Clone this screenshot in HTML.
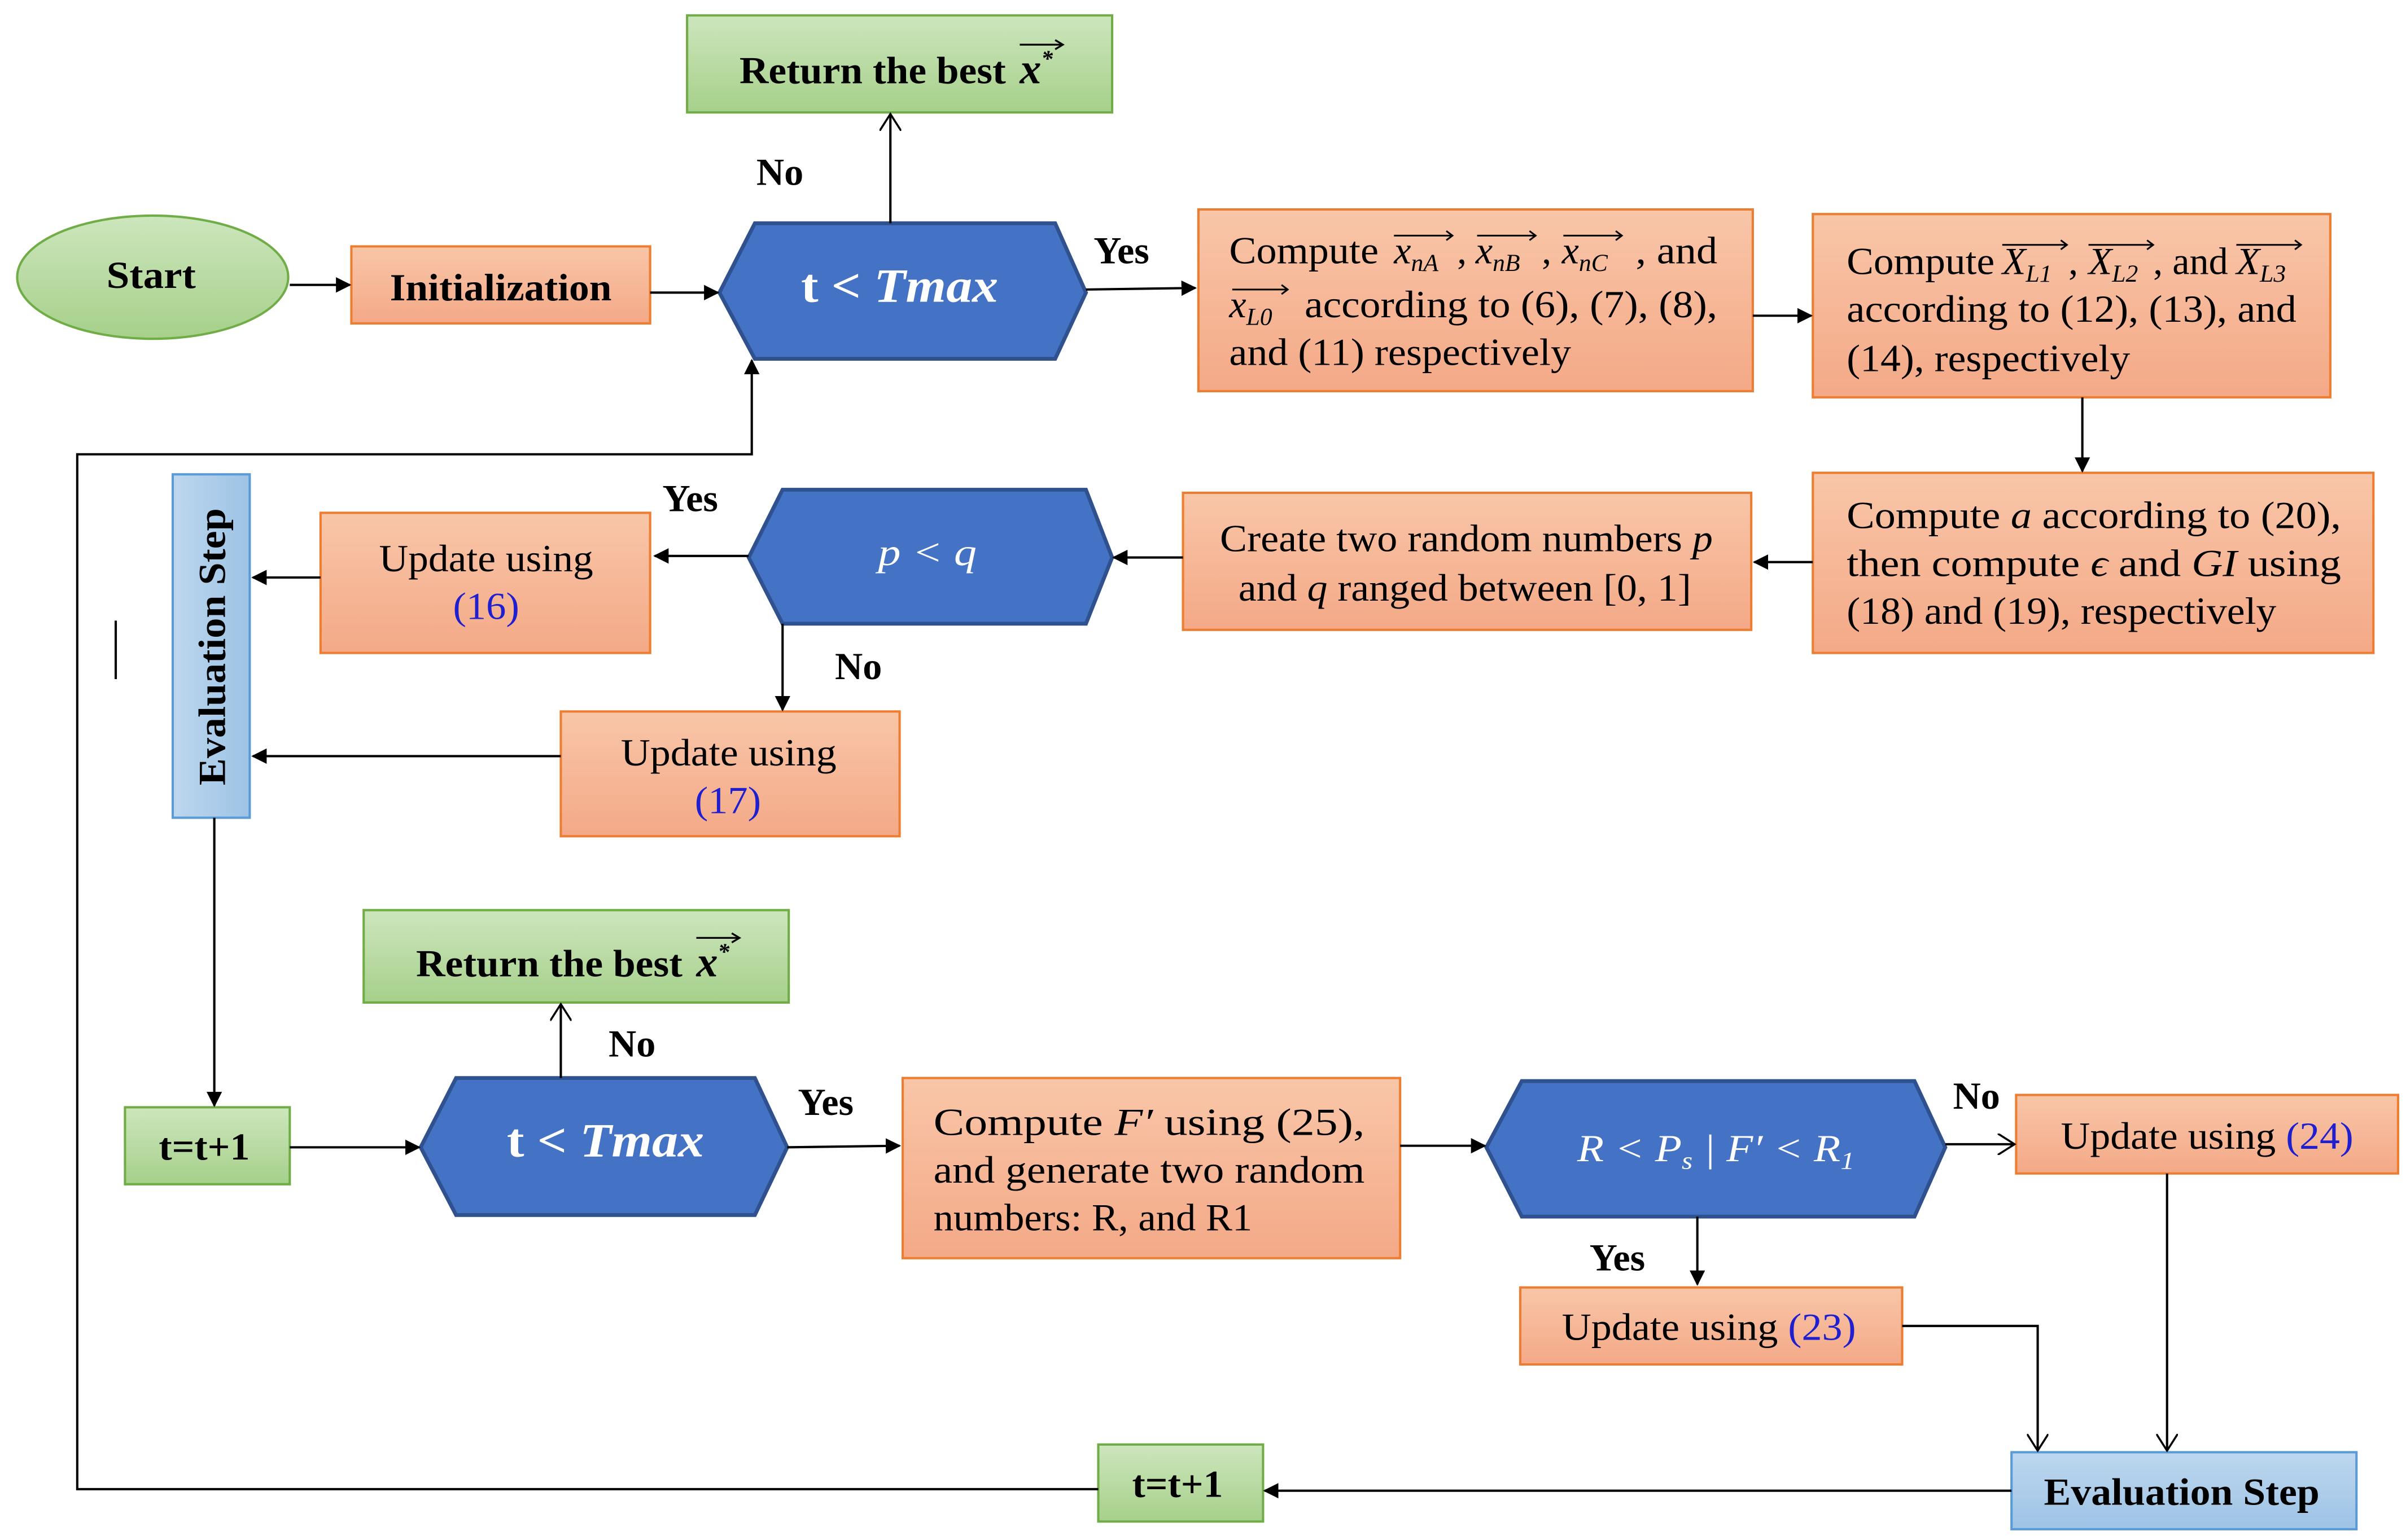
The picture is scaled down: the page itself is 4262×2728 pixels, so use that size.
<!DOCTYPE html>
<html><head><meta charset="utf-8"><style>
html,body{margin:0;padding:0;background:#fff;}
svg{display:block;}
text{font-family:"Liberation Serif",serif;fill:#000;}
</style></head><body>
<svg width="4262" height="2728" viewBox="0 0 1562 1000" xmlns="http://www.w3.org/2000/svg">
<defs>
<linearGradient id="og" x1="0" y1="0" x2="0" y2="1"><stop offset="0" stop-color="#f8c6a8"/><stop offset="1" stop-color="#f4a987"/></linearGradient>
<linearGradient id="gg" x1="0" y1="0" x2="0" y2="1"><stop offset="0" stop-color="#cde6bd"/><stop offset="1" stop-color="#a6d08a"/></linearGradient>
<linearGradient id="bg" x1="0" y1="0" x2="0" y2="1"><stop offset="0" stop-color="#bdd7ee"/><stop offset="1" stop-color="#9dc3e6"/></linearGradient>
<linearGradient id="bgh" x1="0" y1="0" x2="1" y2="0"><stop offset="0" stop-color="#bdd7ee"/><stop offset="1" stop-color="#9dc3e6"/></linearGradient>
<marker id="a" markerWidth="10" markerHeight="10" refX="9" refY="5" orient="auto" markerUnits="userSpaceOnUse"><path d="M0,0 L10,5 L0,10 z" fill="#000"/></marker>
<marker id="o" markerWidth="12" markerHeight="14" refX="11" refY="7" orient="auto" markerUnits="userSpaceOnUse"><path d="M0,0 L11,7 L0,14" fill="none" stroke="#000" stroke-width="1.3"/></marker>
</defs>
<g stroke-width="1.5">
<ellipse cx="99" cy="180" rx="88" ry="40" fill="url(#gg)" stroke="#70ad47"/>
<rect x="228" y="160" width="194" height="50" fill="url(#og)" stroke="#ed7d31"/>
<polygon points="467,190 490,145 685,145 705,190 685,233 490,233" fill="#4472c4" stroke="#2f528f" stroke-width="2.5"/>
<rect x="446" y="10" width="276" height="63" fill="url(#gg)" stroke="#70ad47"/>
<rect x="778" y="136" width="360" height="118" fill="url(#og)" stroke="#ed7d31"/>
<rect x="1177" y="139" width="336" height="119" fill="url(#og)" stroke="#ed7d31"/>
<rect x="1177" y="307" width="364" height="117" fill="url(#og)" stroke="#ed7d31"/>
<rect x="768" y="320" width="369" height="89" fill="url(#og)" stroke="#ed7d31"/>
<polygon points="486,362 508,318 705,318 722,362 705,405 508,405" fill="#4472c4" stroke="#2f528f" stroke-width="2.5"/>
<rect x="208" y="333" width="214" height="91" fill="url(#og)" stroke="#ed7d31"/>
<rect x="112" y="308" width="50" height="223" fill="url(#bgh)" stroke="#5b9bd5"/>
<rect x="364" y="462" width="220" height="81" fill="url(#og)" stroke="#ed7d31"/>
<rect x="81" y="719" width="107" height="50" fill="url(#gg)" stroke="#70ad47"/>
<polygon points="273,745 296,700 490,700 511,745 490,789 296,789" fill="#4472c4" stroke="#2f528f" stroke-width="2.5"/>
<rect x="236" y="591" width="276" height="60" fill="url(#gg)" stroke="#70ad47"/>
<rect x="586" y="700" width="323" height="117" fill="url(#og)" stroke="#ed7d31"/>
<polygon points="965,745 988,702 1243,702 1263,745 1243,790 988,790" fill="#4472c4" stroke="#2f528f" stroke-width="2.5"/>
<rect x="1309" y="711" width="248" height="51" fill="url(#og)" stroke="#ed7d31"/>
<rect x="987" y="836" width="248" height="50" fill="url(#og)" stroke="#ed7d31"/>
<rect x="1306" y="943" width="224" height="50" fill="url(#bg)" stroke="#5b9bd5"/>
<rect x="713" y="938" width="107" height="50" fill="url(#gg)" stroke="#70ad47"/>
</g>
<g stroke="#000" stroke-width="1.5" fill="none">
<line x1="188" y1="185" x2="227" y2="185" marker-end="url(#a)"/>
<line x1="422" y1="190" x2="466" y2="190" marker-end="url(#a)"/>
<line x1="578" y1="145" x2="578" y2="74" marker-end="url(#o)"/>
<line x1="705" y1="188" x2="776" y2="187" marker-end="url(#a)"/>
<line x1="1138" y1="205" x2="1176" y2="205" marker-end="url(#a)"/>
<line x1="1352" y1="258" x2="1352" y2="306" marker-end="url(#a)"/>
<line x1="1177" y1="365" x2="1139" y2="365" marker-end="url(#a)"/>
<line x1="768" y1="362" x2="723" y2="362" marker-end="url(#a)"/>
<line x1="486" y1="361" x2="425" y2="361" marker-end="url(#a)"/>
<line x1="208" y1="375" x2="164" y2="375" marker-end="url(#a)"/>
<line x1="508" y1="405" x2="508" y2="461" marker-end="url(#a)"/>
<line x1="364" y1="491" x2="164" y2="491" marker-end="url(#a)"/>
<line x1="75" y1="403" x2="75" y2="441"/>
<line x1="139" y1="531" x2="139" y2="718" marker-end="url(#a)"/>
<line x1="188" y1="745" x2="272" y2="745" marker-end="url(#a)"/>
<line x1="364" y1="700" x2="364" y2="652" marker-end="url(#o)"/>
<line x1="511" y1="745" x2="584" y2="744" marker-end="url(#a)"/>
<line x1="909" y1="744" x2="964" y2="744" marker-end="url(#a)"/>
<line x1="1263" y1="743" x2="1308" y2="743" marker-end="url(#o)"/>
<line x1="1102" y1="790" x2="1102" y2="834" marker-end="url(#a)"/>
<polyline points="1235,861 1323,861 1323,942" marker-end="url(#o)"/>
<line x1="1407" y1="762" x2="1407" y2="942" marker-end="url(#o)"/>
<line x1="1306" y1="968" x2="821" y2="968" marker-end="url(#a)"/>
<polyline points="713,967 50,967 50,295 488,295 488,234" marker-end="url(#a)"/>
</g>
<g font-size="25" lengthAdjust="spacingAndGlyphs">
<text x="69" y="187" font-weight="bold" textLength="58" lengthAdjust="spacingAndGlyphs">Start</text>
<text x="253" y="195" font-weight="bold" textLength="144" lengthAdjust="spacingAndGlyphs">Initialization</text>
<text x="520" y="196" font-weight="bold" font-size="31" style="fill:#fff" textLength="128" lengthAdjust="spacingAndGlyphs">t &lt; <tspan font-style="italic">Tmax</tspan></text>
<text x="480" y="54" font-weight="bold" textLength="173" lengthAdjust="spacingAndGlyphs">Return the best</text>
<text x="662" y="54" font-weight="bold" font-style="italic" font-size="28">x<tspan font-size="15" dy="-11">*</tspan></text>
<path d="M662,29 h28 m-5,-3 l5,3 -5,3" stroke="#000" stroke-width="1.2" fill="none"/>
<text x="491" y="120" font-weight="bold">No</text>
<text x="710" y="171" font-weight="bold">Yes</text>

<text x="798" y="171" textLength="97" lengthAdjust="spacingAndGlyphs">Compute</text>
<text x="905" y="171" font-style="italic">x<tspan font-size="16" dy="5">nA</tspan></text><text x="946" y="171">,</text>
<text x="958" y="171" font-style="italic">x<tspan font-size="16" dy="5">nB</tspan></text><text x="1001" y="171">,</text>
<text x="1014" y="171" font-style="italic">x<tspan font-size="16" dy="5">nC</tspan></text>
<text x="1062" y="171" textLength="53" lengthAdjust="spacingAndGlyphs">, and</text>
<text x="798" y="206" font-style="italic">x<tspan font-size="16" dy="5">L0</tspan></text>
<text x="847" y="206" textLength="268" lengthAdjust="spacingAndGlyphs">according to (6), (7), (8),</text>
<text x="798" y="237" textLength="222" lengthAdjust="spacingAndGlyphs">and (11) respectively</text>

<text x="1199" y="178" textLength="96" lengthAdjust="spacingAndGlyphs">Compute</text>
<text x="1300" y="178" font-style="italic">X<tspan font-size="16" dy="5">L1</tspan></text><text x="1343" y="178">,</text>
<text x="1356" y="178" font-style="italic">X<tspan font-size="16" dy="5">L2</tspan></text><text x="1398" y="178">, and</text>
<text x="1452" y="178" font-style="italic">X<tspan font-size="16" dy="5">L3</tspan></text>
<text x="1199" y="209" textLength="292" lengthAdjust="spacingAndGlyphs">according to (12), (13), and</text>
<text x="1199" y="241" textLength="184" lengthAdjust="spacingAndGlyphs">(14), respectively</text>

<text x="1199" y="343" textLength="321" lengthAdjust="spacingAndGlyphs">Compute <tspan font-style="italic">a</tspan> according to (20),</text>
<text x="1199" y="374" textLength="321" lengthAdjust="spacingAndGlyphs">then compute <tspan font-style="italic">ϵ</tspan> and <tspan font-style="italic">GI</tspan> using</text>
<text x="1199" y="405" textLength="279" lengthAdjust="spacingAndGlyphs">(18) and (19), respectively</text>

<text x="792" y="358" textLength="320" lengthAdjust="spacingAndGlyphs">Create two random numbers <tspan font-style="italic">p</tspan></text>
<text x="804" y="390" textLength="294" lengthAdjust="spacingAndGlyphs">and <tspan font-style="italic">q</tspan> ranged between [0, 1]</text>
<text x="570" y="367" font-style="italic" style="fill:#fff" textLength="64" lengthAdjust="spacingAndGlyphs">p &lt; q</text>
<text x="430" y="332" font-weight="bold">Yes</text>
<text x="542" y="441" font-weight="bold">No</text>
<text x="246" y="371" textLength="139" lengthAdjust="spacingAndGlyphs">Update using</text>
<text x="294" y="402" style="fill:#1f1fd0" textLength="43" lengthAdjust="spacingAndGlyphs">(16)</text>
<text x="403" y="497" textLength="140" lengthAdjust="spacingAndGlyphs">Update using</text>
<text x="451" y="528" style="fill:#1f1fd0" textLength="43" lengthAdjust="spacingAndGlyphs">(17)</text>
<text transform="translate(146,420) rotate(-90)" text-anchor="middle" font-weight="bold" textLength="180" lengthAdjust="spacingAndGlyphs">Evaluation Step</text>
<text x="103" y="753" font-weight="bold" textLength="59" lengthAdjust="spacingAndGlyphs">t=t+1</text>
<text x="329" y="751" font-weight="bold" font-size="31" style="fill:#fff" textLength="128" lengthAdjust="spacingAndGlyphs">t &lt; <tspan font-style="italic">Tmax</tspan></text>
<text x="270" y="634" font-weight="bold" textLength="173" lengthAdjust="spacingAndGlyphs">Return the best</text>
<text x="452" y="634" font-weight="bold" font-style="italic" font-size="28">x<tspan font-size="15" dy="-11">*</tspan></text>
<path d="M452,609 h28 m-5,-3 l5,3 -5,3" stroke="#000" stroke-width="1.2" fill="none"/>
<text x="395" y="686" font-weight="bold">No</text>
<text x="518" y="724" font-weight="bold">Yes</text>
<text x="606" y="737" textLength="280" lengthAdjust="spacingAndGlyphs">Compute  <tspan font-style="italic">F′</tspan>  using  (25),</text>
<text x="606" y="768" textLength="280" lengthAdjust="spacingAndGlyphs">and generate two random</text>
<text x="606" y="799" textLength="207" lengthAdjust="spacingAndGlyphs">numbers: R, and R1</text>
<text x="1024" y="754" font-style="italic" style="fill:#fff" textLength="180" lengthAdjust="spacingAndGlyphs">R &lt; P<tspan font-size="16" dy="5">s</tspan><tspan dy="-5"> | F′ &lt; R</tspan><tspan font-size="16" dy="5">1</tspan></text>
<text x="1268" y="720" font-weight="bold">No</text>
<text x="1338" y="746" textLength="190" lengthAdjust="spacingAndGlyphs">Update using <tspan style="fill:#1f1fd0">(24)</tspan></text>
<text x="1032" y="825" font-weight="bold">Yes</text>
<text x="1014" y="870" textLength="191" lengthAdjust="spacingAndGlyphs">Update using <tspan style="fill:#1f1fd0">(23)</tspan></text>
<text x="1327" y="977" font-weight="bold" textLength="179" lengthAdjust="spacingAndGlyphs">Evaluation Step</text>
<text x="735" y="972" font-weight="bold" textLength="59" lengthAdjust="spacingAndGlyphs">t=t+1</text>
</g>
<g stroke="#000" stroke-width="1.1" fill="none">
<path d="M905,153 h38 m-4,-3 l4,3 -4,3"/><path d="M959,153 h38 m-4,-3 l4,3 -4,3"/><path d="M1015,153 h38 m-4,-3 l4,3 -4,3"/><path d="M800,188 h36 m-4,-3 l4,3 -4,3"/>
<path d="M1300,159 h42 m-4,-3 l4,3 -4,3"/><path d="M1356,159 h42 m-4,-3 l4,3 -4,3"/><path d="M1452,159 h42 m-4,-3 l4,3 -4,3"/>
</g>
</svg>
</body></html>
